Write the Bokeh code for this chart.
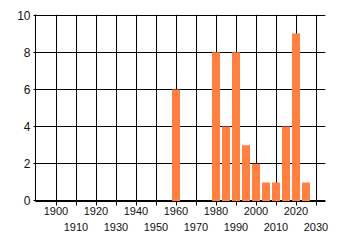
from bokeh.plotting import figure
from bokeh.models import FixedTicker, LinearAxis, Range1d, Grid
from bokeh.embed import file_html
from bokeh.resources import INLINE

years = [1960, 1980, 1985, 1990, 1995, 2000, 2005, 2010, 2015, 2020, 2025]
counts = [6, 8, 4, 8, 3, 2, 1, 1, 4, 9, 1]
x_ticks = list(range(1900, 2031, 10))
y_ticks = [0, 2, 4, 6, 8, 10]
top_row = [t for t in x_ticks if (t // 10) % 2 == 0]
bottom_row = [t for t in x_ticks if (t // 10) % 2 == 1]

FONT = "Liberation Sans"
TXT = "#111111"

p = figure(width=340, height=245, output_backend="svg", toolbar_location=None,
           x_range=Range1d(1889.75, 2034.75), y_range=Range1d(-0.0269, 10.0269),
           min_border_left=35, min_border_right=15, min_border_top=14, min_border_bottom=44,
           x_axis_location=None, y_axis_location=None)
p.outline_line_color = None
p.background_fill_color = "white"
p.border_fill_color = "white"

p.vbar(x=years, top=counts, width=4, bottom=0, fill_color="#FF8040", line_color=None)

# y axis
ya = LinearAxis(ticker=FixedTicker(ticks=y_ticks))
ya.major_tick_out = 2
ya.major_tick_in = 0
ya.minor_tick_line_color = None
ya.major_label_standoff = 3
ya.major_label_text_font = FONT
ya.major_label_text_font_size = "12px"
ya.major_label_text_color = TXT
ya.axis_line_color = "black"
ya.major_tick_line_color = "black"
p.add_layout(ya, "left")

# x axis, top row of labels
xa = LinearAxis(ticker=FixedTicker(ticks=x_ticks))
xa.major_label_overrides = {t: (str(t) if t in top_row else "") for t in x_ticks}
xa.major_tick_out = 4
xa.major_tick_in = 0
xa.minor_tick_line_color = None
xa.major_label_standoff = 1
xa.major_label_text_font = FONT
xa.major_label_text_font_size = "11px"
xa.major_label_text_color = TXT
xa.axis_line_color = "black"
xa.major_tick_line_color = "black"
p.add_layout(xa, "below")

# x axis, second row of labels
xb = LinearAxis(ticker=FixedTicker(ticks=bottom_row))
xb.major_tick_out = 0
xb.major_tick_in = 0
xb.minor_tick_line_color = None
xb.axis_line_color = None
xb.major_tick_line_color = None
xb.major_label_standoff = 5
xb.major_label_text_font = FONT
xb.major_label_text_font_size = "11px"
xb.major_label_text_color = TXT
p.add_layout(xb, "below")

p.xgrid.visible = False
p.ygrid.visible = False
p.add_layout(Grid(dimension=0, ticker=FixedTicker(ticks=x_ticks), grid_line_color="black", grid_line_width=1))
p.add_layout(Grid(dimension=1, ticker=FixedTicker(ticks=y_ticks), grid_line_color="black", grid_line_width=1))

open("out.html", "w").write(file_html(p, INLINE))
